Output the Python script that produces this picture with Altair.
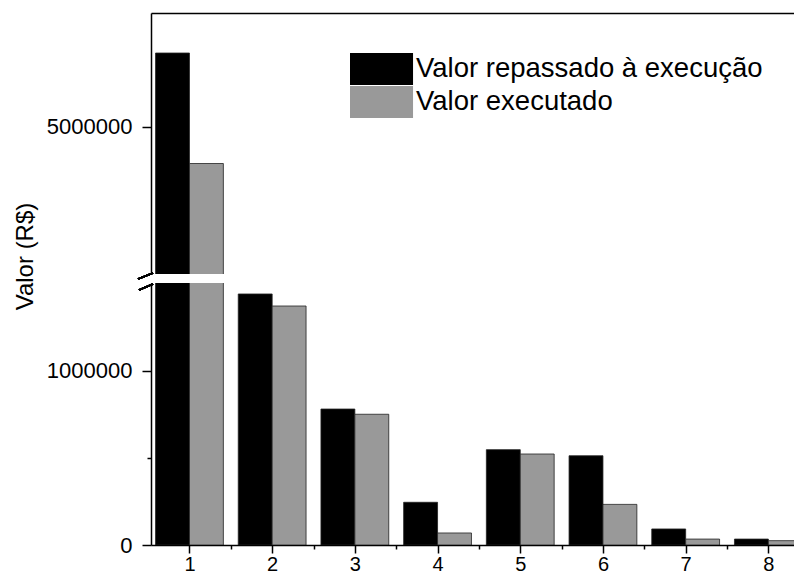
import altair as alt
import pandas as pd

# ---- data ----
categorias = [1, 2, 3, 4, 5, 6, 7, 8]
valor_repassado = [5425000, 1440000, 780000, 245000, 547000, 512000, 92000, 34000]
valor_executado = [4790000, 1371000, 750000, 69000, 522000, 233000, 34000, 25000]
series = ["Valor repassado à execução", "Valor executado"]
cores = ["#000000", "#999999"]

rows = []
for c, a, b in zip(categorias, valor_repassado, valor_executado):
    rows.append({"cat": c, "serie": series[0], "valor": a, "ordem": 0})
    rows.append({"cat": c, "serie": series[1], "valor": b, "ordem": 1})
df = pd.DataFrame(rows)

FONT = "Liberation Sans"
W = 643
X_DOM = [0.535, 8.31]
color_scale = alt.Scale(domain=series, range=cores)
x_scale = alt.Scale(domain=X_DOM, nice=False, zero=False)

base = alt.Chart(df).transform_calculate(
    x0="datum.cat - 0.41 + 0.41 * datum.ordem",
    x1="datum.cat + 0.41 * datum.ordem",
)

# ---- upper panel (broken axis, high values) ----
upper = base.mark_bar(clip=True, stroke="#222222", strokeWidth=0.8).encode(
    x=alt.X("x0:Q", scale=x_scale,
            axis=alt.Axis(orient="top", labels=False, ticks=False, title=None, domain=True)),
    x2="x1:Q",
    y=alt.Y("valor:Q", scale=alt.Scale(domain=[4155000, 5655000], nice=False, zero=False),
            axis=alt.Axis(values=[5000000], format="d", title=None, tickSize=9, labelPadding=10)),
    y2=alt.datum(0),
    color=alt.Color("serie:N", scale=color_scale,
                    legend=alt.Legend(title=None, orient="none", legendX=199, legendY=40,
                                      symbolType="M-1,-1H2.94V1H-1Z", symbolSize=1024,
                                      labelFontSize=27.5, labelFont=FONT, labelColor="black",
                                      labelOffset=34, rowPadding=1, padding=0, labelLimit=0,
                                      symbolStrokeWidth=0, symbolOpacity=1)),
).properties(width=W, height=261)

# ---- lower panel ----
minor_x = {"condition": {"test": "datum.value % 1 != 0", "value": 4}, "value": 8}
minor_y = {"condition": {"test": "datum.value == 500000", "value": 4}, "value": 9}

lower_bars = base.mark_bar(clip=True, stroke="#222222", strokeWidth=0.8).encode(
    x=alt.X("x0:Q", scale=x_scale,
            axis=alt.Axis(values=[1, 1.5, 2, 2.5, 3, 3.5, 4, 4.5, 5, 5.5, 6, 6.5, 7, 7.5, 8],
                          labelExpr="datum.value % 1 == 0 ? '' + datum.value : ''",
                          tickSize=minor_x, labelPadding=1, labelFontSize=20,
                          title=None, labelFlush=False)),
    x2="x1:Q",
    y=alt.Y("valor:Q", scale=alt.Scale(domain=[0, 1503000], nice=False),
            axis=alt.Axis(values=[0, 500000, 1000000],
                          labelExpr="datum.value == 500000 ? '' : format(datum.value, 'd')",
                          tickSize=minor_y, labelPadding=10,
                          title="Valor (R$)", titleX=-114, titleY=-27, titleFontSize=24,
                          titleAngle=270)),
    y2=alt.datum(0),
    color=alt.Color("serie:N", scale=color_scale, legend=None),
)

brk1 = alt.Chart(df).mark_rule(color="black", strokeWidth=1.5).encode(
    x=alt.value(-13), x2=alt.value(2), y=alt.value(-4), y2=alt.value(-10))
brk2 = alt.Chart(df).mark_rule(color="black", strokeWidth=1.5).encode(
    x=alt.value(-12), x2=alt.value(2), y=alt.value(7), y2=alt.value(1))

lower = alt.layer(lower_bars, brk1, brk2).properties(width=W, height=262)

chart = alt.vconcat(upper, lower, spacing=9, bounds="flush").resolve_scale(
    color="independent"
).properties(
    padding={"left": 5, "top": 5, "right": 0, "bottom": 0}
).configure_view(
    stroke=None
).configure_axis(
    grid=False, domainColor="black", domainWidth=1.5, tickColor="black", tickWidth=1.5,
    labelFont=FONT, labelFontSize=22, labelColor="black",
    titleFont=FONT, titleColor="black", titleFontWeight="normal",
)

chart.save("out.html", embed_options={"renderer": "svg", "actions": False})
